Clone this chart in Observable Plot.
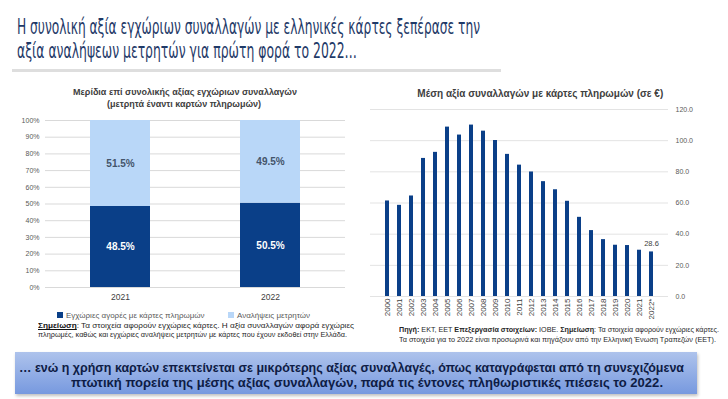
<!DOCTYPE html>
<html>
<head>
<meta charset="utf-8">
<script src="https://cdn.jsdelivr.net/npm/d3@7"></script>
<script src="https://cdn.jsdelivr.net/npm/@observablehq/plot@0.6"></script>
<style>
  html, body { margin:0; padding:0; background:#fff; }
  #page { position:relative; width:728px; height:399px; overflow:hidden; font-family:"Liberation Sans", "DejaVu Sans", sans-serif; }
  .abs { position:absolute; white-space:nowrap; line-height:1.15; }
  .fit { transform-origin:0 0; }
  .title { font-family:"Liberation Sans Narrow","DejaVu Sans Condensed","Roboto",sans-serif; font-size:21px; color:#1f3a68; }
  .ctitle { font-weight:bold; color:#404040; font-size:9px; }
  .legend { font-size:8px; color:#595959; }
  .sw { display:inline-block; width:6px; height:6px; margin-right:3px; vertical-align:0px; }
  .note { font-size:7px; color:#262626; }
  .banner { position:absolute; left:15px; top:352px; width:682px; height:42px;
            background:linear-gradient(#aec3ec, #7799df); box-shadow:1px 2px 3px rgba(0,0,0,0.25); }
  .btext { font-family:"Liberation Sans","DejaVu Sans",sans-serif; font-weight:bold; font-size:13.5px; line-height:1; color:#0e1c45; }
  svg { overflow:visible; }
</style>
</head>
<body>
<div id="page"></div>
<script>
// ---------------- DATA ----------------
const titleLines = [
  "Η συνολική αξία εγχώριων συναλλαγών με ελληνικές κάρτες ξεπέρασε την",
  "αξία αναλήψεων μετρητών για πρώτη φορά το 2022…"
];
const leftTitle = ["Μερίδια επί συνολικής αξίας εγχώριων συναλλαγών", "(μετρητά έναντι καρτών πληρωμών)"];
const shareYears = ["2021", "2022"];
const seriesNames = ["Εγχώριες αγορές με κάρτες πληρωμών", "Αναλήψεις μετρητών"];
const cardShare = [48.5, 50.5];
const cashShare = [51.5, 49.5];
const shareTicks = [0, 10, 20, 30, 40, 50, 60, 70, 80, 90, 100];

const rightTitle = "Μέση αξία συναλλαγών με κάρτες πληρωμών (σε €)";
const avgYears = ["2000","2001","2002","2003","2004","2005","2006","2007","2008","2009","2010","2011",
                  "2012","2013","2014","2015","2016","2017","2018","2019","2020","2021","2022*"];
const avgValue = [61.3, 58.5, 64.5, 88.6, 92.5, 108.7, 103.6, 110.0, 106.1, 100.1, 91.2, 84.3,
                  79.9, 73.7, 68.5, 61.1, 50.8, 42.3, 36.5, 32.9, 32.7, 29.7, 28.6];
const avgTicks = [0, 20, 40, 60, 80, 100, 120];

const leftNote = [
  ["Σημείωση", ": Τα στοιχεία αφορούν εγχώριες κάρτες. Η αξία συναλλαγών αφορά εγχώριες"],
  ["", "πληρωμές, καθώς και εγχώριες αναλήψεις μετρητών με κάρτες που έχουν εκδοθεί στην Ελλάδα."]
];
const rightNote = [
  '<b>Πηγή:</b> ΕΚΤ, ΕΕΤ <b>Επεξεργασία στοιχείων:</b> ΙΟΒΕ. <b>Σημείωση</b>: Τα στοιχεία αφορούν εγχώριες κάρτες.',
  'Τα στοιχεία για το 2022 είναι προσωρινά και πηγάζουν από την Ελληνική Ένωση Τραπεζών (ΕΕΤ).'
];
const bannerLines = [
  "… ενώ η χρήση καρτών επεκτείνεται σε μικρότερης αξίας συναλλαγές, όπως καταγράφεται από τη συνεχιζόμενα",
  "πτωτική πορεία της μέσης αξίας συναλλαγών, παρά τις έντονες πληθωριστικές πιέσεις το 2022."
];

const darkBlue = "#0a3f88";
const lightBlue = "#b9d7f8";

// ---------------- HELPERS ----------------
const page = document.getElementById("page");
function addDiv(html, cls, x, y, fitW) {
  const d = document.createElement("div");
  d.className = "abs " + cls;
  d.innerHTML = html;
  d.style.left = x + "px";
  d.style.top = y + "px";
  page.appendChild(d);
  if (fitW) {
    const w = d.getBoundingClientRect().width;
    d.classList.add("fit");
    d.style.transform = `scaleX(${fitW / w})`;
  }
  return d;
}
function centerDiv(html, cls, cx, y) {
  const d = addDiv(html, cls, 0, y);
  const w = d.getBoundingClientRect().width;
  d.style.left = (cx - w / 2) + "px";
  return d;
}

// ---------------- TITLE ----------------
addDiv(titleLines[0], "title", 17, 15, 463);
addDiv(titleLines[1], "title", 17, 39, 340);
const rule = document.createElement("div");
rule.style.cssText = "position:absolute;left:12px;top:69px;width:489px;height:3px;background:#dedede;";
page.appendChild(rule);

// ---------------- LEFT CHART ----------------
centerDiv(leftTitle[0], "ctitle", 185, 87);
centerDiv(leftTitle[1], "ctitle", 184, 99);

const shareData = shareYears.flatMap((y, i) => [
  {year: y, series: seriesNames[0], v: cardShare[i]},
  {year: y, series: seriesNames[1], v: cashShare[i]}
]);

const left = Plot.plot({
  width: 352, height: 195,
  marginLeft: 43, marginRight: 9, marginTop: 8, marginBottom: 20,
  style: {fontFamily: "Liberation Sans, DejaVu Sans, sans-serif", background: "transparent", overflow: "visible"},
  x: {domain: shareYears, paddingInner: 0.6, paddingOuter: 0.3, label: null},
  y: {domain: [0, 100], label: null},
  color: {domain: seriesNames, range: [darkBlue, lightBlue]},
  marks: [
    Plot.gridY(shareTicks, {stroke: "#d9d9d9", strokeOpacity: 1}),
    Plot.axisY(shareTicks, {tickSize: 0, tickPadding: 6, fontSize: 7, fill: "#595959", tickFormat: d => d + "%", label: null}),
    Plot.axisX({tickSize: 0, tickPadding: 6, fontSize: 8.5, fill: "#404040", label: null}),
    Plot.barY(shareData, Plot.stackY({x: "year", y: "v", z: "series", fill: "series"})),
    Plot.text(shareData, Plot.stackY({x: "year", y: "v", z: "series",
      text: d => d.v.toFixed(1) + "%", fontSize: 10, fontWeight: "bold",
      fill: d => d.series === seriesNames[0] ? "#ffffff" : "#44546a"}))
  ]
});
left.style.position = "absolute";
left.style.left = "2px";
left.style.top = "112px";
page.appendChild(left);

// legend
addDiv(`<span class="sw" style="background:${darkBlue}"></span>${seriesNames[0]}`, "legend", 57, 311);
addDiv(`<span class="sw" style="background:${lightBlue}"></span>${seriesNames[1]}`, "legend", 228, 311);

// left note
addDiv(`<b style="text-decoration:underline;color:#111">${leftNote[0][0]}</b>${leftNote[0][1]}`, "note", 38, 322, 316);
addDiv(leftNote[1][1], "note", 38, 331, 309);

// ---------------- RIGHT CHART ----------------
centerDiv(rightTitle, "ctitle", 528, 88).style.fontSize = "10px";

const avgData = avgYears.map((y, i) => ({year: y, v: avgValue[i]}));
const right = Plot.plot({
  width: 360, height: 222,
  marginLeft: 10, marginRight: 52, marginTop: 9, marginBottom: 26,
  style: {fontFamily: "Liberation Sans, DejaVu Sans, sans-serif", background: "transparent", overflow: "visible"},
  x: {domain: avgYears, paddingInner: 0.64, paddingOuter: 0.33, label: null},
  y: {domain: [0, 120], label: null},
  marks: [
    Plot.gridY(avgTicks, {stroke: "#e3e3e3", strokeOpacity: 1}),
    Plot.axisY(avgTicks, {anchor: "right", tickSize: 0, tickPadding: 7, fontSize: 7, fill: "#595959",
      tickFormat: d => d.toFixed(1), label: null}),
    Plot.axisX({tickRotate: -90, tickSize: 0, tickPadding: 2, fontSize: 8, fill: "#404040", label: null}),
    Plot.barY(avgData, {x: "year", y: "v", fill: darkBlue}),
    Plot.text(avgData.slice(-1), {x: "year", y: "v", text: d => d.v.toFixed(1), dy: -8, fontSize: 7.5, fill: "#404040"})
  ]
});
right.style.position = "absolute";
right.style.left = "360px";
right.style.top = "100px";
page.appendChild(right);

addDiv(rightNote[0], "note", 399, 326, 320);
addDiv(rightNote[1], "note", 399, 336, 317);

// ---------------- BANNER ----------------
const banner = document.createElement("div");
banner.className = "banner";
page.appendChild(banner);
addDiv(bannerLines[0], "btext", 19, 361, 665);
addDiv(bannerLines[1], "btext", 71, 376, 592);
</script>
</body>
</html>
